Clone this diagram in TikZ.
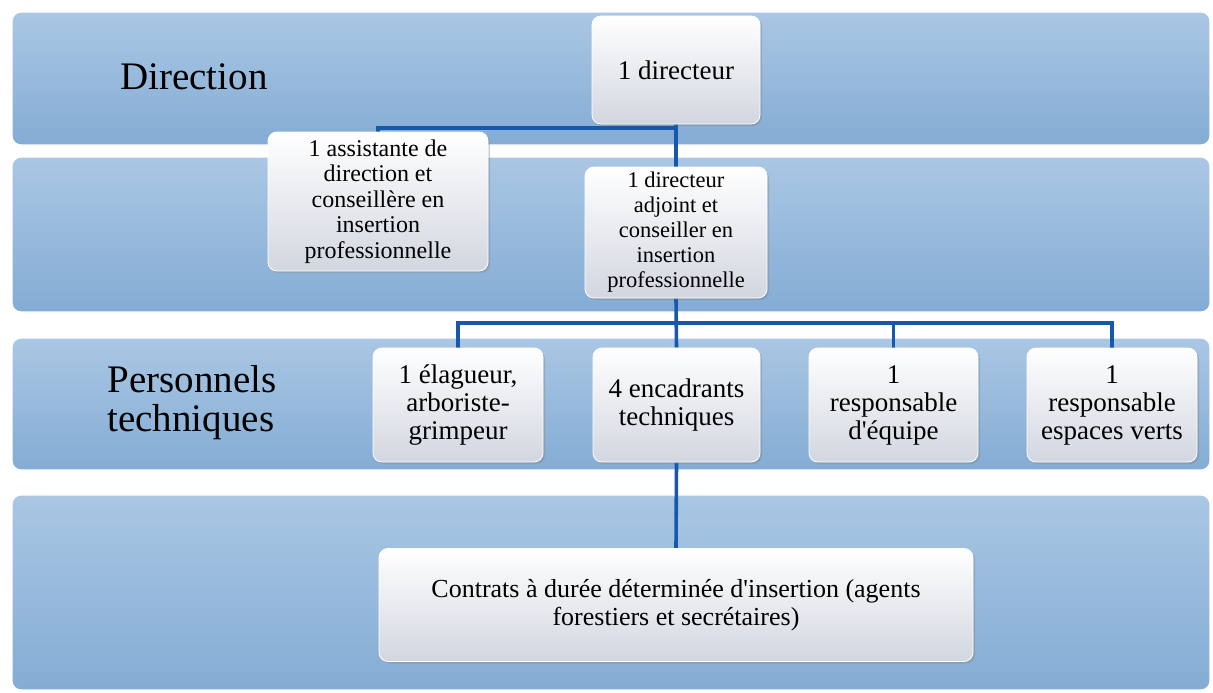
\documentclass[tikz,border=0pt]{standalone}
\usepackage{fontspec}
\setmainfont{Liberation Serif}
\usetikzlibrary{shadows}
\pgfdeclarelayer{bands}
\pgfdeclarelayer{lines}
\pgfsetlayers{bands,lines,main}
\definecolor{bandtop}{RGB}{170,199,228}
\definecolor{bandbot}{RGB}{132,172,212}
\definecolor{boxbot}{RGB}{210,214,223}
\definecolor{connblue}{RGB}{22,88,172}
\newcommand{\apos}{\textquotesingle}
\tikzset{
  band/.style={draw=white, line width=1.2pt, rounded corners=9pt, top color=bandtop, bottom color=bandbot},
  box/.style={draw=white, line width=0.8pt, rounded corners=9pt, top color=white, bottom color=boxbot,
    drop shadow={opacity=0.35, shadow xshift=2pt, shadow yshift=-2pt},
    align=center, inner sep=2pt},
  rowtext/.style={font=\fontsize{27}{28}\selectfont},
  conn/.style={draw=connblue, line width=3.6pt},
  bandlabel/.style={align=left, font=\fontsize{39}{39}\selectfont}
}
\begin{document}
\begin{tikzpicture}[x=1pt,y=-1pt]
\useasboundingbox (0,0) rectangle (1213,693);
% nodes
\node[box, minimum width=168pt, minimum height=108pt, font=\fontsize{27}{30}\selectfont] (dir) at (676,70) {1 directeur};
\node[box, minimum width=220pt, minimum height=139pt, font=\fontsize{24}{25.5}\selectfont] (asst) at (378,201.5) {1 assistante de\\direction et\\conseillère en\\insertion\\professionnelle};
\node[box, minimum width=182pt, minimum height=131pt, font=\fontsize{22.5}{25}\selectfont] (adj) at (676,232.5) {1 directeur\\adjoint et\\conseiller en\\insertion\\professionnelle};
\node[box, rowtext, minimum width=170pt, minimum height=114pt] (ela) at (458,405) {1 élagueur,\\arboriste-\\grimpeur};
\node[box, rowtext, minimum width=167pt, minimum height=114pt] (enc) at (676.5,405) {4 encadrants\\techniques};
\node[box, rowtext, minimum width=169pt, minimum height=114pt] (equ) at (893.5,405) {1\\responsable\\d\apos équipe};
\node[box, rowtext, minimum width=170pt, minimum height=114pt] (esp) at (1112,405) {1\\responsable\\espaces verts};
\node[box, minimum width=594pt, minimum height=113pt, font=\fontsize{26}{27.5}\selectfont] (con) at (676,605) {Contrats à durée déterminée d\apos insertion (agents\\forestiers et secrétaires)};
% band labels
\node[bandlabel] (lab1) at (194,77) {Direction};
\node[bandlabel] (lab3) at (192,403) {Personnels\\techniques};
% bands
\begin{pgfonlayer}{bands}
\fill[white] (0,0) rectangle (1213,693);
\path[band] (12,12) rectangle (1210,145);
\path[band] (12,157) rectangle (1210,312);
\path[band] (12,338) rectangle (1210,470);
\path[band] (12,495) rectangle (1210,690);
\end{pgfonlayer}
% connectors
\coordinate (bus1) at (676,128);
\coordinate (bus2) at (676,323);
\begin{pgfonlayer}{lines}
\draw[conn] (dir.south) -- (adj.north);
\draw[conn] (bus1) -- (bus1 -| asst.north) -- (asst.north);
\draw[conn] (adj.south) -- (enc.north);
\draw[conn] (ela.north) -- (ela.north |- bus2) -- (esp.north |- bus2) -- (esp.north);
\draw[conn] (equ.north |- bus2) -- (equ.north);
\draw[conn] (enc.south) -- (con.north);
\end{pgfonlayer}
\end{tikzpicture}
\end{document}
